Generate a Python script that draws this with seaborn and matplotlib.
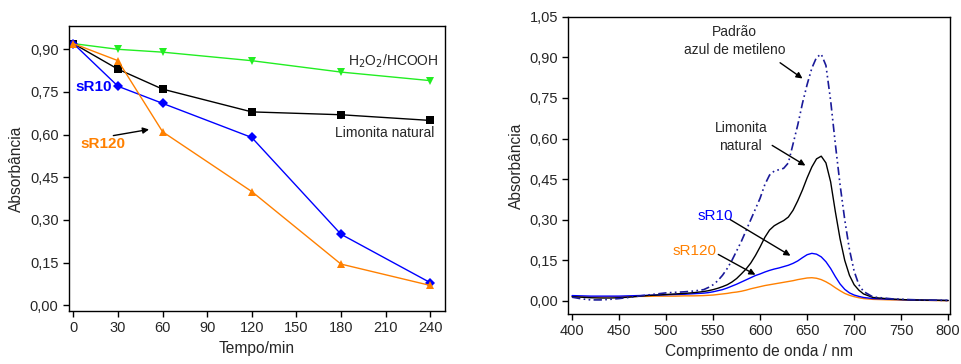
import pandas as pd
import matplotlib.pyplot as plt
import matplotlib.ticker as mticker
import seaborn as sns

# Left panel: absorbance vs time
tempo = [0, 30, 60, 120, 180, 240]
h2o2 = [0.92, 0.90, 0.89, 0.86, 0.82, 0.79]
limonita = [0.92, 0.83, 0.76, 0.68, 0.67, 0.65]
sr10 = [0.92, 0.77, 0.71, 0.59, 0.25, 0.08]
sr120 = [0.92, 0.86, 0.61, 0.40, 0.145, 0.07]

# Right panel: spectra
wl = [400, 410, 420, 430, 440, 450, 460, 470, 480, 490, 500, 510, 520, 530,
      540, 545, 550, 555, 560, 565, 570, 575, 580, 585, 590, 595, 600, 605, 610, 615,
      620, 625, 630, 635, 640, 645, 650, 655, 660, 665, 670, 675, 680, 685, 690, 695,
      700, 705, 710,
      720, 740, 760, 780, 800]
padrao = [0.014, 0.008, 0.004, 0.004, 0.006, 0.009, 0.013, 0.018, 0.022, 0.026, 0.030, 0.032, 0.034, 0.037,
          0.042, 0.050, 0.060, 0.075, 0.095, 0.12, 0.15, 0.185, 0.22, 0.26, 0.30, 0.34, 0.38, 0.43, 0.465, 0.48,
          0.485, 0.49, 0.51, 0.58, 0.65, 0.73, 0.80, 0.86, 0.90, 0.912, 0.87, 0.74, 0.58, 0.43, 0.30, 0.19,
          0.11, 0.06, 0.035,
          0.015, 0.008, 0.005, 0.003, 0.002]
lim_spec = [0.016, 0.014, 0.012, 0.011, 0.011, 0.012, 0.014, 0.017, 0.020, 0.022, 0.024, 0.026, 0.028, 0.031,
            0.035, 0.038, 0.042, 0.047, 0.053, 0.060, 0.070, 0.083, 0.10, 0.118, 0.14, 0.168, 0.20, 0.235, 0.262, 0.278,
            0.288, 0.297, 0.31, 0.335, 0.37, 0.41, 0.455, 0.495, 0.525, 0.535, 0.51, 0.44, 0.33, 0.23, 0.15, 0.095,
            0.06, 0.04, 0.026,
            0.013, 0.007, 0.004, 0.003, 0.002]
sr10_spec = [0.020, 0.019, 0.018, 0.018, 0.018, 0.018, 0.019, 0.020, 0.021, 0.022, 0.023, 0.024, 0.025, 0.027,
             0.029, 0.031, 0.034, 0.038, 0.042, 0.048, 0.055, 0.062, 0.070, 0.078, 0.086, 0.094, 0.10, 0.107, 0.113, 0.118,
             0.122, 0.127, 0.132, 0.139, 0.148, 0.16, 0.171, 0.176, 0.173, 0.163, 0.145, 0.12, 0.09, 0.063, 0.043, 0.03,
             0.022, 0.017, 0.013,
             0.009, 0.006, 0.004, 0.003, 0.002]
sr120_spec = [0.015, 0.015, 0.015, 0.015, 0.016, 0.016, 0.016, 0.017, 0.017, 0.018, 0.018, 0.018, 0.019, 0.019,
              0.020, 0.021, 0.022, 0.024, 0.026, 0.028, 0.031, 0.033, 0.036, 0.040, 0.045, 0.049, 0.053, 0.057, 0.060, 0.063,
              0.066, 0.069, 0.072, 0.075, 0.079, 0.082, 0.085, 0.086, 0.084, 0.079, 0.071, 0.061, 0.049, 0.038, 0.028, 0.021,
              0.016, 0.012, 0.009,
              0.006, 0.004, 0.003, 0.002, 0.001]

sns.set_style("ticks")
plt.rcParams['font.family'] = ['Liberation Sans', 'DejaVu Sans']
plt.rcParams['font.size'] = 10
plt.rcParams['axes.labelsize'] = 11.2
plt.rcParams['xtick.labelsize'] = 10.5
plt.rcParams['ytick.labelsize'] = 10.5

comma = mticker.FuncFormatter(lambda v, p: f"{v:.2f}".replace('.', ','))

fig = plt.figure(figsize=(9.61, 3.64), dpi=100)
ax1 = fig.add_axes([0.0718, 0.1456, 0.3912, 0.783])
ax2 = fig.add_axes([0.5914, 0.1374, 0.3972, 0.8166])

df1 = pd.DataFrame({'t': tempo * 4,
                    'A': h2o2 + limonita + sr10 + sr120,
                    's': ['h2o2'] * 6 + ['lim'] * 6 + ['sr10'] * 6 + ['sr120'] * 6})
pal1 = {'h2o2': '#22ee22', 'lim': 'black', 'sr10': '#0000ff', 'sr120': '#ff8000'}
marks = {'h2o2': 'v', 'lim': 's', 'sr10': 'D', 'sr120': '^'}
sns.lineplot(data=df1, x='t', y='A', hue='s', style='s', palette=pal1, markers=marks,
             dashes=False, markersize=5.5, markeredgewidth=0, lw=1, legend=False, ax=ax1)

ax1.set_xlim(-3, 250)
ax1.set_ylim(-0.02, 0.982)
ax1.set_xticks(range(0, 241, 30))
ax1.set_yticks([0, 0.15, 0.30, 0.45, 0.60, 0.75, 0.90])
ax1.yaxis.set_major_formatter(comma)
ax1.set_xlabel('Tempo/min')
ax1.set_ylabel('Absorbância')
ax1.text(246, 0.858, 'H$_2$O$_2$/HCOOH', ha='right', va='center')
ax1.text(243, 0.605, 'Limonita natural', ha='right', va='center')
ax1.text(1.5, 0.768, 'sR10', color='#0000ff', fontweight='bold', fontsize=11, ha='left', va='center')
ax1.text(5, 0.567, 'sR120', color='#ff8000', fontweight='bold', fontsize=11, ha='left', va='center')
ax1.annotate('', xy=(52.7, 0.62), xytext=(25, 0.595),
             arrowprops=dict(arrowstyle='-|>', color='black', lw=1, mutation_scale=9))

df2 = pd.DataFrame({'wl': wl, 'padrao': padrao, 'lim': lim_spec,
                    'sr10': sr10_spec, 'sr120': sr120_spec})
sns.lineplot(data=df2, x='wl', y='sr120', color='#ff8000', lw=1, ax=ax2)
sns.lineplot(data=df2, x='wl', y='sr10', color='#0000ff', lw=1, ax=ax2)
sns.lineplot(data=df2, x='wl', y='lim', color='black', lw=1, ax=ax2)
sns.lineplot(data=df2, x='wl', y='padrao', color='#1a1a99', lw=1.2, ax=ax2,
             dashes=False, linestyle=(0, (5, 2, 1, 2, 1, 2)))

ax2.set_xlim(396, 802)
ax2.set_ylim(-0.048, 1.05)
ax2.set_xticks(range(400, 801, 50))
ax2.set_yticks([0, 0.15, 0.30, 0.45, 0.60, 0.75, 0.90, 1.05])
ax2.yaxis.set_major_formatter(comma)
ax2.set_xlabel('Comprimento de onda / nm')
ax2.set_ylabel('Absorbância')

arrow = dict(arrowstyle='-|>', color='black', lw=1, mutation_scale=9)
ax2.text(573, 0.96, 'Padrão\nazul de metileno', ha='center', va='center', linespacing=1.3)
ax2.annotate('', xy=(647.5, 0.816), xytext=(618.8, 0.886), arrowprops=arrow)
ax2.text(579.5, 0.606, 'Limonita\nnatural', ha='center', va='center', linespacing=1.3)
ax2.annotate('', xy=(650.7, 0.495), xytext=(610.3, 0.58), arrowprops=arrow)
ax2.text(533.7, 0.314, 'sR10', color='#0000ff', fontsize=11, ha='left', va='center')
ax2.annotate('', xy=(634.8, 0.162), xytext=(565.6, 0.306), arrowprops=arrow)
ax2.text(507, 0.185, 'sR120', color='#ff8000', fontsize=11, ha='left', va='center')
ax2.annotate('', xy=(597.6, 0.092), xytext=(552.9, 0.177), arrowprops=arrow)

for ax in (ax1, ax2):
    for sp in ax.spines.values():
        sp.set_linewidth(1)
        sp.set_color('black')
    ax.tick_params(direction='out', length=4, width=1, color='black')

fig.savefig('out.png', dpi=100)
